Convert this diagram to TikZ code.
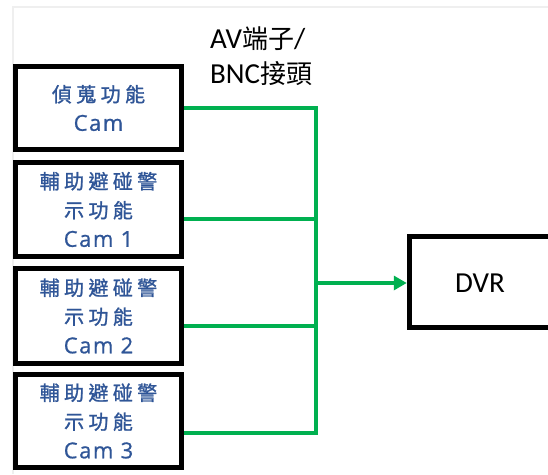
\documentclass[tikz,border=0pt]{standalone}
\usepackage{fontspec}
\setmainfont{Carlito}
\newfontfamily\cjkb[LetterSpace=22,FakeBold=1.2]{Noto Sans CJK TC}
\newfontfamily\latb[LetterSpace=7,FakeBold=0.8]{Open Sans}
\newfontfamily\cjkt{Noto Sans CJK TC}
\usetikzlibrary{arrows.meta}
\definecolor{lineg}{HTML}{00B050}
\definecolor{txtb}{HTML}{2F5597}
\definecolor{frameg}{HTML}{EFEFEF}
\begin{document}
\begin{tikzpicture}[x=1pt,y=1pt,
  box/.style={draw=black, line width=5pt, fill=white, inner sep=0pt, align=center,
              text=txtb, font=\fontsize{20}{29}\selectfont},
  dvrbox/.style={draw=black, line width=5pt, fill=white, inner sep=0pt},
  wire/.style={draw=lineg, line width=3.5pt},
  lab/.style={anchor=base west, inner sep=0pt, font=\fontsize{29}{34}\selectfont},
]
\useasboundingbox (0,0) rectangle (548,-474);
\clip (0,0) rectangle (548,-474);
\fill[white] (0,0) rectangle (548,-474);
\draw[frameg, line width=2pt] (13,-474) -- (13,-6.5) -- (548,-6.5);

\node[box, minimum width=166pt, minimum height=83pt] (b1) at (98.5,-108)
  {{\cjkb 偵蒐功能}\\{\latb\fontsize{22}{29}\selectfont Cam}};
\node[box, minimum width=166pt, minimum height=94pt] (b2) at (98.5,-209.5)
  {{\cjkb 輔助避碰警}\\{\cjkb 示功能}\\{\latb\fontsize{22}{29}\selectfont Cam 1}};
\node[box, minimum width=166pt, minimum height=95pt] (b3) at (98.5,-316)
  {{\cjkb 輔助避碰警}\\{\cjkb 示功能}\\{\latb\fontsize{22}{29}\selectfont Cam 2}};
\node[box, minimum width=166pt, minimum height=93pt] (b4) at (98.5,-421)
  {{\cjkb 輔助避碰警}\\{\cjkb 示功能}\\{\latb\fontsize{22}{29}\selectfont Cam 3}};

\node[dvrbox, minimum width=143pt, minimum height=90.5pt] (dvr) at (480.75,-281.75) {};
\node[inner sep=0pt, font=\fontsize{29}{34}\selectfont] (dvrt) at (480,-283) {DVR};

\node[lab] (lab1) at (210,-48) {AV{\cjkt\fontsize{26}{34}\selectfont 端子}/};
\node[lab] (lab2) at (210,-83) {BNC{\cjkt\fontsize{26}{34}\selectfont 接頭}};

\coordinate (jb) at (316,-433);
\coordinate (jm) at (316,-283);
\coordinate (c2) at ([yshift=-9.5pt]b2.east);
\coordinate (c3) at ([yshift=-10pt]b3.east);
\coordinate (c4) at ([yshift=-12pt]b4.east);

\draw[wire] (b1.east) -| (jb) -- (c4);
\draw[wire] (c2) -- (c2 -| jb);
\draw[wire] (c3) -- (c3 -| jb);
\draw[wire, -{Triangle[length=13pt,width=14pt]}] (jm) -- (jm -| dvr.west);
\end{tikzpicture}
\end{document}
